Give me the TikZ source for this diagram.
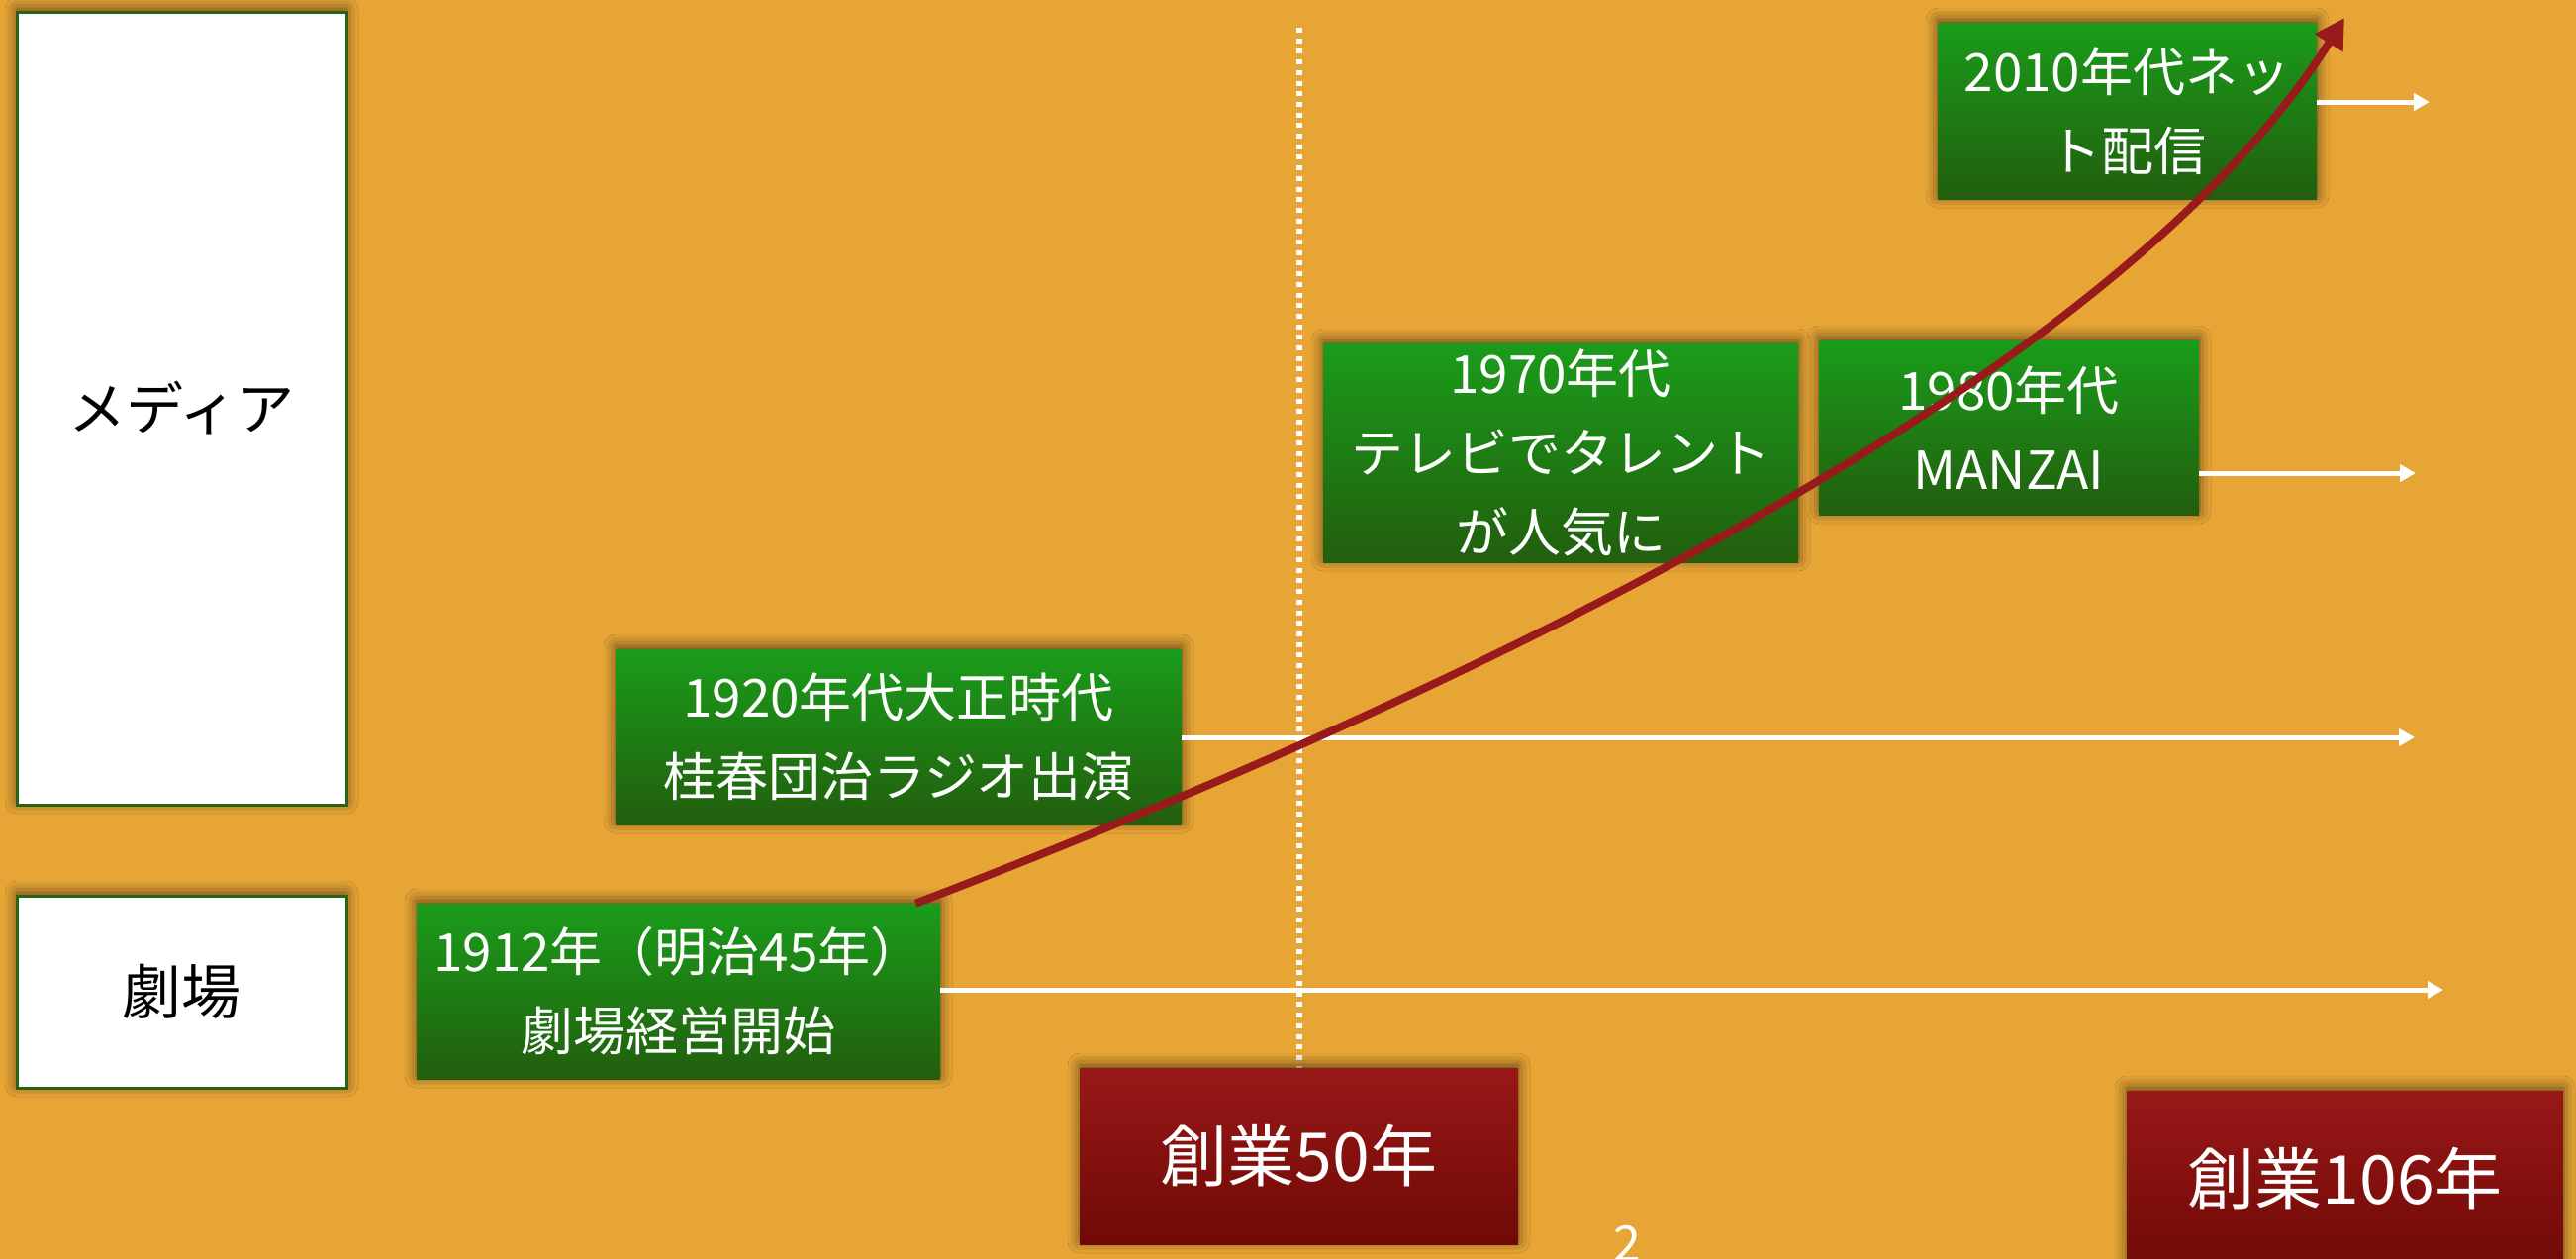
\documentclass[tikz,border=0pt]{standalone}
\usepackage{fontspec}
\newfontfamily\jp{Noto Sans CJK JP}
\usetikzlibrary{arrows.meta,shadows.blur}
\definecolor{bg}{RGB}{231,165,54}
\definecolor{gtop}{RGB}{26,156,26}
\definecolor{gbot}{RGB}{34,94,14}
\definecolor{rtop}{RGB}{152,24,24}
\definecolor{rbot}{RGB}{112,10,5}
\definecolor{redarrow}{RGB}{152,26,26}
\definecolor{edge}{RGB}{40,100,20}
\begin{document}
\begin{tikzpicture}[x=1pt,y=-1pt,
  shadowed/.style={blur shadow={shadow xshift=0pt,shadow yshift=3pt,shadow blur radius=12pt,shadow opacity=60}},
  whitebox/.style={shadowed, rectangle, fill=white, draw=edge, line width=3pt, inner sep=0pt, text=black},
  greenbox/.style={shadowed, rectangle, top color=gtop, bottom color=gbot, inner sep=0pt, align=center, text=white, font=\jp\fontsize{53}{80}\selectfont},
  redbox/.style={shadowed, rectangle, top color=rtop, bottom color=rbot, inner sep=0pt, text=white, font=\jp\fontsize{68}{80}\selectfont},
  timeline/.style={draw=white, line width=5pt, -{Triangle[length=16pt,width=17pt]}},
  growth/.style={draw=redarrow, line width=8pt, -{Triangle[length=30pt,width=32pt]}},
  marker/.style={draw=white, line width=5.5pt, dash pattern=on 5pt off 5.7pt},
]
\useasboundingbox (0,0) rectangle (2603,1272);
\fill[bg] (0,0) rectangle (2603,1272);

% dotted marker line
\coordinate (dtop) at (1313,28);
\coordinate (dbot) at (1313,1079);
\draw[marker] (dtop) -- (dbot);

% category boxes
\node[whitebox, minimum width=333pt, minimum height=801pt, font=\jp\fontsize{58}{70}\selectfont] (media) at (183.5,412.5) {メディア};
\node[whitebox, minimum width=333pt, minimum height=194pt, font=\jp\fontsize{60}{70}\selectfont] (theater) at (183.5,1002) {劇場};

% events
\node[greenbox, minimum width=529pt, minimum height=177pt] (g1912) at (685.5,1001.5) {1912年（明治45年）\\劇場経営開始};
\node[greenbox, minimum width=572pt, minimum height=177pt] (g1920) at (908,744.5) {1920年代大正時代\\桂春団治ラジオ出演};
\node[greenbox, minimum width=480pt, minimum height=221pt] (g1970) at (1577,457.5) {1970年代\\テレビでタレント\\が人気に};
\node[greenbox, minimum width=384pt, minimum height=176pt] (g1980) at (2030,432) {1980年代\\MANZAI};
\node[greenbox, minimum width=383pt, minimum height=178pt] (g2010) at (2149.5,112) {2010年代ネッ\\ト配信};

% anniversaries
\node[redbox, minimum width=443pt, minimum height=178pt] (r50) at (1312.5,1168) {創業50年};
\node[redbox, minimum width=441pt, minimum height=178pt] (r106) at (2369.5,1191) {創業106年};

% timelines
\coordinate (e1912) at (2469,1000);
\draw[timeline] (g1912.east |- e1912) -- (e1912);
\coordinate (e1920) at (2440,745);
\draw[timeline] (g1920.east |- e1920) -- (e1920);
\coordinate (e1980) at (2441,478);
\draw[timeline] (g1980.east |- e1980) -- (e1980);
\coordinate (e2010) at (2455,103);
\draw[timeline] (g2010.east |- e2010) -- (e2010);

% growth curve
\coordinate (gstart) at ([xshift=-25pt]g1912.north east);
\coordinate (gtip) at (2369,18);
\draw[growth] (gstart) .. controls (1579,662) and (2157,357) .. (gtip);

% page number
\node[font=\jp\fontsize{50}{60}\selectfont, text=white, anchor=base] (pnum) at (1644,1274) {2};
\end{tikzpicture}
\end{document}
